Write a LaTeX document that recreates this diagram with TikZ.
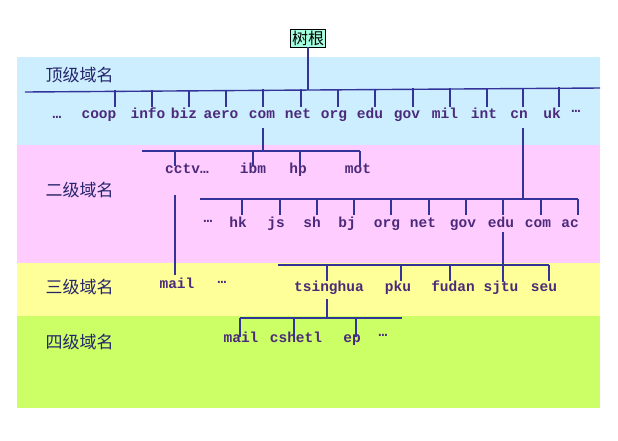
\documentclass[tikz,border=0pt]{standalone}
\usepackage{fontspec}
\setmonofont{Liberation Mono}
\newfontfamily\cjk{Noto Sans CJK SC}
\definecolor{bandA}{HTML}{CCEEFF}
\definecolor{bandB}{HTML}{FFCCFF}
\definecolor{bandC}{HTML}{FFFF99}
\definecolor{bandD}{HTML}{CCFF66}
\definecolor{labc}{HTML}{4B2A7A}
\definecolor{linec}{HTML}{333399}
\begin{document}
\begin{tikzpicture}[x=1pt,y=-1pt,
  lab/.style={font=\ttfamily\bfseries\fontsize{14.5}{15}\selectfont,text=labc,inner sep=0pt,anchor=base},
  lvl/.style={font=\cjk\fontsize{17}{19}\selectfont,text=linec!70!black,anchor=west},
  ln/.style={draw=linec,line width=1.4pt}]
\useasboundingbox (0,0) rectangle (618,440);
\fill[bandA] (17,57) rectangle (600,145);
\fill[bandB] (17,145) rectangle (600,263);
\fill[bandC] (17,263) rectangle (600,316);
\fill[bandD] (17,316) rectangle (600,408);
\node[lvl] (l1) at (42,75) {顶级域名};
\node[lvl] (l2) at (42,190) {二级域名};
\node[lvl] (l3) at (42,287) {三级域名};
\node[lvl] (l4) at (42,342) {四级域名};
\node[draw,fill=green!35!cyan!35,font=\cjk\fontsize{16}{18}\selectfont,inner sep=1.5pt] (root) at (308,38) {树根};
% top level
\coordinate (b1l) at (25,92); \coordinate (b1r) at (600,88);
\draw[ln] (b1l) -- (b1r);
\draw[ln] (root.south) -- (308,90);
\foreach \n/\x/\t in {d1/57/\dots,coop/99/coop,info/148/info,biz/184/biz,aero/221/aero,com/262/com,net/298/net,org/334/org,edu/370/edu,gov/407/gov,mil/445/mil,int/484/int,cn/519/cn,uk/552/uk}
  \node[lab] (\n) at (\x,118) {\t};
\node[lab] (d2) at (576,112) {\dots};
\foreach \x in {115,152,189,226,263,301,338,375,413,450,487,523,559}
  \draw[ln] (\x,{91-0.007*(\x-25)}) -- (\x,107);
% com subtree
\draw[ln] (263,128) -- (263,151);
\coordinate (c2l) at (142,151); \coordinate (c2r) at (360,151);
\draw[ln] (c2l) -- (c2r);
\node[lab] (cctv) at (187,173) {cctv\dots};
\node[lab] (ibm) at (253,173) {ibm};
\node[lab] (hp) at (298,173) {hp};
\node[lab] (mot) at (358,173) {mot};
\foreach \x/\y in {175,253,300,360} \draw[ln] (\x,151) -- (\x,166);
\node[lab] (mail3) at (177,288) {mail};
\node[lab] (d3) at (222,283) {\dots};
\draw[ln] (175,195) -- (175,275);
% cn subtree
\draw[ln] (523,128) -- (523,199);
\coordinate (c3l) at (200,199); \coordinate (c3r) at (578,199);
\draw[ln] (c3l) -- (c3r);
\foreach \n/\x/\t in {hk/238/hk,js/276/js,sh/312/sh,bj/347/bj,org2/387/org,net2/423/net,gov2/463/gov,edu2/501/edu,com2/538/com,ac2/570/ac}
  \node[lab] (\n) at (\x,227) {\t};
\node[lab] (d4) at (208,222) {\dots};
\foreach \x in {242,280,317,354,391,429,466,503,541,578} \draw[ln] (\x,199) -- (\x,215);
% edu subtree
\draw[ln] (503,232) -- (503,282);
\draw[ln] (278,265) -- (549,265);
\foreach \n/\x/\t in {tsing/329/tsinghua,pku/398/pku,fudan/453/fudan,sjtu/501/sjtu,seu/544/seu}
  \node[lab] (\n) at (\x,291) {\t};
\foreach \x in {327,401,450,549} \draw[ln] (\x,265) -- (\x,281);
% tsinghua subtree
\draw[ln] (327,299) -- (327,318);
\draw[ln] (240,318) -- (402,318);
\foreach \n/\x/\t in {mail4/241/mail,cshetl/296/cshetl,ep/352/ep}
  \node[lab] (\n) at (\x,342) {\t};
\node[lab] (d5) at (383,336) {\dots};
\foreach \x in {240,294,356} \draw[ln] (\x,318) -- (\x,337);
\end{tikzpicture}
\end{document}
